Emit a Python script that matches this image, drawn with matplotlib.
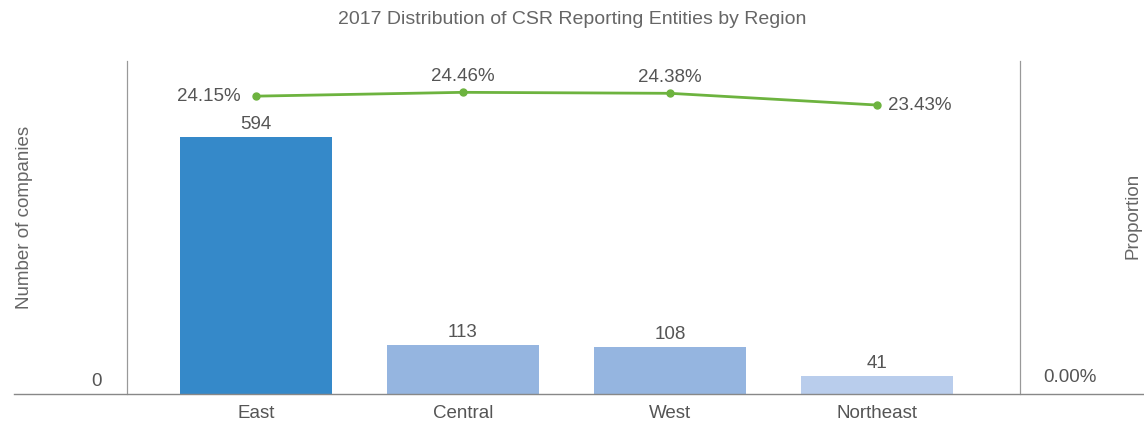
import matplotlib
matplotlib.use("Agg")
import matplotlib.pyplot as plt
from matplotlib.lines import Line2D

regions = ["East", "Central", "West", "Northeast"]
companies = [594, 113, 108, 41]
proportion = [24.15, 24.46, 24.38, 23.43]
bar_colors = ["#3589c9", "#95b5e0", "#95b5e0", "#b9cdec"]

plt.rcParams["font.family"] = ["Liberation Sans", "DejaVu Sans"]
txt = "#555555"
fs = 13.5

W, H = 1144, 424
fig = plt.figure(figsize=(W / 100, H / 100), dpi=100)
ax = fig.add_axes([127 / W, (H - 394) / H, (1020 - 127) / W, (394 - 61) / H])
ax2 = ax.twinx()

x = list(range(len(regions)))
ax.bar(x, companies, width=0.735, color=bar_colors, zorder=2)
for xi, v in zip(x, companies):
    ax.text(xi, v + 10, str(v), ha="center", va="bottom", fontsize=fs, color=txt)

ax.set_xlim(-0.623, 3.691)
ax.set_ylim(0, 770)
ax2.set_ylim(0, 27.0)

ax2.plot(x, proportion, color="#6db33f", lw=2, marker="o", ms=5, zorder=3)
offsets = [(-11, 0, "right", "center"), (0, 5, "center", "bottom"),
           (0, 5, "center", "bottom"), (8, 0, "left", "center")]
for xi, v, (dx, dy, ha, va) in zip(x, proportion, offsets):
    ax2.annotate(f"{v:.2f}%", (xi, v), xytext=(dx, dy), textcoords="offset points",
                 ha=ha, va=va, fontsize=fs, color=txt)

for a in (ax, ax2):
    a.set_yticks([])
    for s in ("top", "bottom"):
        a.spines[s].set_visible(False)
    a.spines["left"].set_color("#999999")
    a.spines["right"].set_color("#999999")
ax.set_xticks(x)
ax.set_xticklabels(regions, fontsize=fs, color=txt)
ax.tick_params(axis="x", length=0, pad=8)

# baseline extending past the axes
fig.add_artist(Line2D([14 / W, 1.0], [(H - 394) / H] * 2, color="#888888", lw=1))

fig.text(102 / W, (H - 382) / H, "0", ha="right", va="center", fontsize=fs, color=txt)
fig.text(1043 / W, (H - 378) / H, "0.00%", ha="left", va="center", fontsize=fs, color=txt)
fig.text(25 / W, (H - 217) / H, "Number of companies", rotation=90, ha="center",
         va="center", fontsize=fs, color="#666666")
fig.text(1133 / W, (H - 216) / H, "Proportion", rotation=90, ha="center",
         va="center", fontsize=fs, color="#666666")
fig.text(0.5, (H - 20) / H, "2017 Distribution of CSR Reporting Entities by Region",
         ha="center", va="center", fontsize=14, color="#666666")

fig.savefig("out.png", dpi=100)
